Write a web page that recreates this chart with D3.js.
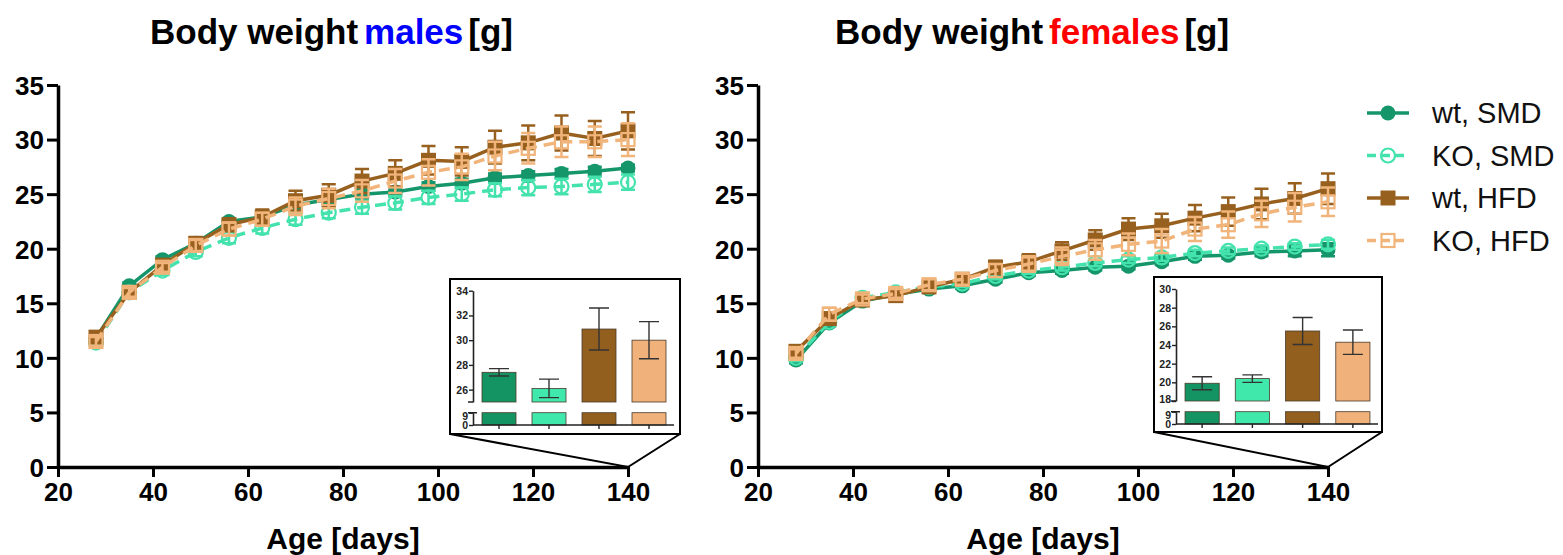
<!DOCTYPE html>
<html>
<head>
<meta charset="utf-8">
<title>Body weight</title>
<script src="https://d3js.org/d3.v7.min.js"></script>
<style>
  body { margin: 0; background: #fff; }
  text { font-family: "Liberation Sans", Arial, sans-serif; }
</style>
</head>
<body>
<script>
// ---- data ----
const days = [28, 35, 42, 49, 56, 63, 70, 77, 84, 91, 98, 105, 112, 119, 126, 133, 140];
const seriesNames = ["wt, SMD", "KO, SMD", "wt, HFD", "KO, HFD"];
const xTicks = [20, 40, 60, 80, 100, 120, 140];
const yTicks = [0, 5, 10, 15, 20, 25, 30, 35];

// males
const maleWtSMD = [11.8, 16.6, 19.0, 20.5, 22.5, 22.9, 24.0, 24.5, 25.0, 25.2, 25.7, 26.0, 26.5, 26.7, 26.9, 27.1, 27.4];
const maleWtSMDErr = [0.3, 0.3, 0.3, 0.3, 0.3, 0.3, 0.4, 0.4, 0.4, 0.4, 0.4, 0.4, 0.4, 0.4, 0.4, 0.4, 0.3];
const maleKoSMD = [11.4, 16.0, 18.0, 19.7, 21.0, 21.9, 22.7, 23.3, 23.8, 24.2, 24.7, 25.0, 25.4, 25.6, 25.7, 25.9, 26.1];
const maleKoSMDErr = [0.3, 0.3, 0.4, 0.4, 0.5, 0.5, 0.5, 0.5, 0.6, 0.6, 0.6, 0.6, 0.6, 0.7, 0.7, 0.7, 0.7];
const maleWtHFD = [11.9, 16.0, 18.5, 20.5, 22.2, 22.9, 24.4, 24.9, 26.2, 26.9, 28.1, 28.0, 29.3, 29.7, 30.6, 30.1, 30.8];
const maleWtHFDErr = [0.4, 0.4, 0.5, 0.5, 0.6, 0.7, 0.9, 1.0, 1.1, 1.2, 1.3, 1.3, 1.5, 1.6, 1.6, 1.6, 1.7];
const maleKoHFD = [11.5, 16.0, 18.3, 20.3, 21.8, 22.7, 23.9, 24.6, 25.3, 26.2, 27.0, 27.5, 28.5, 29.2, 29.8, 29.8, 30.0];
const maleKoHFDErr = [0.4, 0.4, 0.4, 0.5, 0.6, 0.6, 0.8, 0.9, 1.0, 1.1, 1.2, 1.2, 1.3, 1.4, 1.4, 1.4, 1.5];

// females
const femWtSMD = [9.8, 13.2, 15.2, 15.8, 16.3, 16.6, 17.2, 17.8, 18.0, 18.3, 18.4, 18.8, 19.3, 19.4, 19.7, 19.8, 19.9];
const femWtSMDErr = [0.3, 0.3, 0.3, 0.3, 0.3, 0.3, 0.3, 0.3, 0.3, 0.3, 0.3, 0.3, 0.3, 0.3, 0.4, 0.5, 0.6];
const femKoSMD = [10.0, 13.3, 15.5, 16.0, 16.5, 16.8, 17.5, 18.0, 18.3, 18.7, 19.0, 19.2, 19.6, 19.8, 20.0, 20.2, 20.4];
const femKoSMDErr = [0.3, 0.3, 0.3, 0.3, 0.3, 0.3, 0.3, 0.3, 0.3, 0.3, 0.3, 0.3, 0.3, 0.3, 0.3, 0.3, 0.4];
const femWtHFD = [10.6, 13.6, 15.3, 15.7, 16.5, 17.2, 18.3, 18.8, 19.8, 20.8, 21.8, 22.1, 22.8, 23.4, 24.1, 24.6, 25.5];
const femWtHFDErr = [0.4, 0.4, 0.4, 0.4, 0.4, 0.5, 0.6, 0.7, 0.8, 0.9, 1.0, 1.1, 1.2, 1.3, 1.4, 1.4, 1.4];
const femKoHFD = [10.4, 14.0, 15.4, 15.9, 16.7, 17.2, 18.0, 18.6, 19.3, 19.9, 20.4, 20.7, 21.8, 22.2, 23.2, 23.8, 24.3];
const femKoHFDErr = [0.4, 0.6, 0.4, 0.4, 0.5, 0.5, 0.6, 0.7, 0.8, 0.9, 1.0, 1.1, 1.1, 1.2, 1.2, 1.3, 1.3];

// insets: values at 140 days
const insetMaleMeans = [27.4, 26.1, 30.9, 30.0];
const insetMaleErr = [0.3, 0.75, 1.7, 1.5];
const insetMaleTicks = [26, 28, 30, 32, 34];
const insetFemMeans = [19.9, 20.4, 25.5, 24.3];
const insetFemErr = [0.7, 0.4, 1.45, 1.3];
const insetFemTicks = [18, 20, 22, 24, 26, 28, 30];
const insetLowTicks = [0, 9];

// ---- styles ----
const lineColors = ["#14956a", "#44e2ad", "#98601e", "#f1b47a"];
const barColors = ["#139462", "#40e8ac", "#935f1f", "#f0b27a"];
const dashes = [null, "11,7", null, "11,7"];
const shapes = ["circle", "circle", "square", "square"];
const filled = [true, false, true, false];

const width = 1563, height = 555;
const svg = d3.select("body").append("svg")
  .attr("width", width)
  .attr("height", height);

function marker(g, i, cx, cy) {
  const c = lineColors[i];
  if (shapes[i] === "circle") {
    g.append("circle").attr("cx", cx).attr("cy", cy).attr("r", filled[i] ? 7.5 : 7)
      .attr("fill", filled[i] ? c : "none")
      .attr("stroke", c).attr("stroke-width", filled[i] ? 0 : 2.2);
  } else {
    const s = filled[i] ? 15 : 13;
    g.append("rect").attr("x", cx - s / 2).attr("y", cy - s / 2)
      .attr("width", s).attr("height", s)
      .attr("fill", filled[i] ? c : "none")
      .attr("stroke", c).attr("stroke-width", filled[i] ? 0 : 2.2);
  }
}

function drawPanel(p) {
  const x = d3.scaleLinear().domain([20, 140]).range([p.left, p.left + 570]);
  const y = d3.scaleLinear().domain([0, 35]).range([467, 85]);
  const g = svg.append("g");

  // title
  const t = g.append("text").attr("x", p.titleX).attr("y", 44)
    .attr("font-size", 35).attr("font-weight", "bold");
  t.append("tspan").text("Body weight");
  t.append("tspan").attr("dx", 6).attr("fill", p.sexColor).text(p.sex);
  t.append("tspan").attr("dx", 5).text("[g]");

  // axes
  const ya = g.append("g").attr("transform", `translate(${p.left},0)`)
    .call(d3.axisLeft(y).tickValues(yTicks).tickSize(11).tickSizeOuter(0).tickPadding(3));
  const xa = g.append("g").attr("transform", `translate(0,467)`)
    .call(d3.axisBottom(x).tickValues(xTicks).tickSize(10).tickSizeOuter(0).tickPadding(6));
  [ya, xa].forEach(a => {
    a.select(".domain").attr("stroke", "#000").attr("stroke-width", 3.5);
    a.selectAll(".tick line").attr("stroke", "#000").attr("stroke-width", 3);
    a.selectAll(".tick text").attr("fill", "#000").attr("font-size", 26)
      .attr("font-weight", "bold").attr("font-family", "'Liberation Sans', Arial, sans-serif");
  });
  ya.selectAll(".tick text").attr("dy", "0.36em");

  g.append("text").attr("x", p.left + 285).attr("y", 549)
    .attr("text-anchor", "middle").attr("font-size", 30).attr("font-weight", "bold")
    .text("Age [days]");

  // series
  p.series.forEach((s, i) => {
    const pts = days.map((d, j) => ({ d: d, v: s.vals[j], e: s.err[j] }));
    const sg = g.append("g");
    sg.selectAll("path.err").data(pts).join("path").attr("class", "err")
      .attr("fill", "none").attr("stroke", lineColors[i]).attr("stroke-width", 2.5)
      .attr("d", d => {
        const cx = x(d.d), t = y(d.v + d.e), b = y(d.v - d.e);
        return `M${cx - 7},${t}H${cx + 7}M${cx},${t}V${b}M${cx - 7},${b}H${cx + 7}`;
      });
    sg.append("path").datum(pts)
      .attr("fill", "none").attr("stroke", lineColors[i]).attr("stroke-width", 3.5)
      .attr("stroke-dasharray", dashes[i])
      .attr("d", d3.line().x(d => x(d.d)).y(d => y(d.v)));
    pts.forEach(d => marker(sg, i, x(d.d), y(d.v)));
  });

  // inset
  const b = p.inset;
  const ig = g.append("g");
  ig.append("rect").attr("x", b.x).attr("y", b.y).attr("width", b.w).attr("height", b.h)
    .attr("fill", "#fff").attr("stroke", "#000").attr("stroke-width", 2);
  // connecting lines
  ig.append("path").attr("fill", "none").attr("stroke", "#000").attr("stroke-width", 2)
    .attr("d", `M${b.x},${b.y + b.h}L${x(140)},${y(0)}L${b.x + b.w},${b.y + b.h}`);

  const bx = d3.scaleBand().domain(seriesNames).range([b.axisX + 1, b.axisEnd])
    .paddingInner(0.32).paddingOuter(0.16);
  const yUp = d3.scaleLinear().domain(b.upDomain).range([b.upBottom, b.upTop]);
  const yLo = d3.scaleLinear().domain([0, 9]).range([b.zeroY, b.nineY]);
  const bars = seriesNames.map((n, i) => ({ n: n, v: b.means[i], e: b.err[i], i: i }));

  ig.selectAll("rect.up").data(bars).join("rect").attr("class", "up")
    .attr("x", d => bx(d.n)).attr("width", bx.bandwidth())
    .attr("y", d => yUp(d.v)).attr("height", d => yUp(b.upDomain[0]) - yUp(d.v))
    .attr("fill", d => barColors[d.i]).attr("stroke", "#4a3a2a").attr("stroke-width", 0.8);
  ig.selectAll("rect.lo").data(bars).join("rect").attr("class", "lo")
    .attr("x", d => bx(d.n)).attr("width", bx.bandwidth())
    .attr("y", yLo(9)).attr("height", yLo(0) - yLo(9))
    .attr("fill", d => barColors[d.i]).attr("stroke", "#4a3a2a").attr("stroke-width", 0.8);
  ig.selectAll("path.ierr").data(bars).join("path").attr("class", "ierr")
    .attr("fill", "none").attr("stroke", "#333").attr("stroke-width", 1.4)
    .attr("d", d => {
      const cx = bx(d.n) + bx.bandwidth() / 2, t = yUp(d.v + d.e), bt = yUp(d.v - d.e);
      return `M${cx - 10},${t}H${cx + 10}M${cx},${t}V${bt}M${cx - 10},${bt}H${cx + 10}`;
    });

  const ua = ig.append("g").attr("transform", `translate(${b.axisX},0)`)
    .call(d3.axisLeft(yUp).tickValues(b.ticks).tickSize(4).tickSizeOuter(0).tickPadding(1));
  const la = ig.append("g").attr("transform", `translate(${b.axisX},0)`)
    .call(d3.axisLeft(yLo).tickValues(insetLowTicks).tickSize(4).tickSizeOuter(0).tickPadding(1));
  const ba = ig.append("g").attr("transform", `translate(0,${b.zeroY})`)
    .call(d3.axisBottom(bx).tickSize(4).tickSizeOuter(0).tickFormat(""));
  ba.select(".domain").attr("d", `M${b.axisX},0H${b.axisEnd}`);
  [ua, la, ba].forEach(a => {
    a.select(".domain").attr("stroke", "#222").attr("stroke-width", 1.6);
    a.selectAll(".tick line").attr("stroke", "#222").attr("stroke-width", 1.4);
    a.selectAll(".tick text").attr("fill", "#222").attr("font-size", 10.5)
      .attr("font-weight", "bold").attr("font-family", "'Liberation Sans', Arial, sans-serif");
  });
  // keep the labels on both sides of the axis break apart
  ua.selectAll(".tick text").filter(d => d === b.upDomain[0]).attr("dy", "0.1em");
  la.selectAll(".tick text").filter(d => d === 9).attr("dy", "0.62em");
  // break caps
  ig.append("path").attr("fill", "none").attr("stroke", "#222").attr("stroke-width", 1.6)
    .attr("d", `M${b.axisX - 5},${yUp(b.upDomain[0])}H${b.axisX}M${b.axisX - 5},${yLo(9)}H${b.axisX + 4}`);

  // legend
  if (p.legend) {
    seriesNames.forEach((n, i) => {
      const ly = 113 + i * 42.5;
      const lg = g.append("g");
      lg.append("path").attr("d", `M1367,${ly}H1409`).attr("stroke", lineColors[i])
        .attr("stroke-width", 3.5).attr("stroke-dasharray", dashes[i] ? "9,5" : null);
      marker(lg, i, 1388, ly);
      lg.append("text").attr("x", 1432).attr("y", ly).attr("dy", "0.36em")
        .attr("font-size", 29).attr("fill", "#111").text(n);
    });
  }
}

drawPanel({
  left: 58, titleX: 150, sex: "males", sexColor: "#0000ff", legend: false,
  series: [
    { vals: maleWtSMD, err: maleWtSMDErr },
    { vals: maleKoSMD, err: maleKoSMDErr },
    { vals: maleWtHFD, err: maleWtHFDErr },
    { vals: maleKoHFD, err: maleKoHFDErr }
  ],
  inset: {
    x: 450, y: 279, w: 230, h: 155, axisX: 473, axisEnd: 674,
    upDomain: [25, 34], upBottom: 402, upTop: 290.7, nineY: 412.7, zeroY: 425,
    means: insetMaleMeans, err: insetMaleErr, ticks: insetMaleTicks
  }
});

drawPanel({
  left: 758, titleX: 835, sex: "females", sexColor: "#ff0000", legend: true,
  series: [
    { vals: femWtSMD, err: femWtSMDErr },
    { vals: femKoSMD, err: femKoSMDErr },
    { vals: femWtHFD, err: femWtHFDErr },
    { vals: femKoHFD, err: femKoHFDErr }
  ],
  inset: {
    x: 1154, y: 277, w: 228, h: 155, axisX: 1176, axisEnd: 1378,
    upDomain: [18, 30], upBottom: 401, upTop: 289, nineY: 411.7, zeroY: 424,
    means: insetFemMeans, err: insetFemErr, ticks: insetFemTicks
  }
});
</script>
</body>
</html>
